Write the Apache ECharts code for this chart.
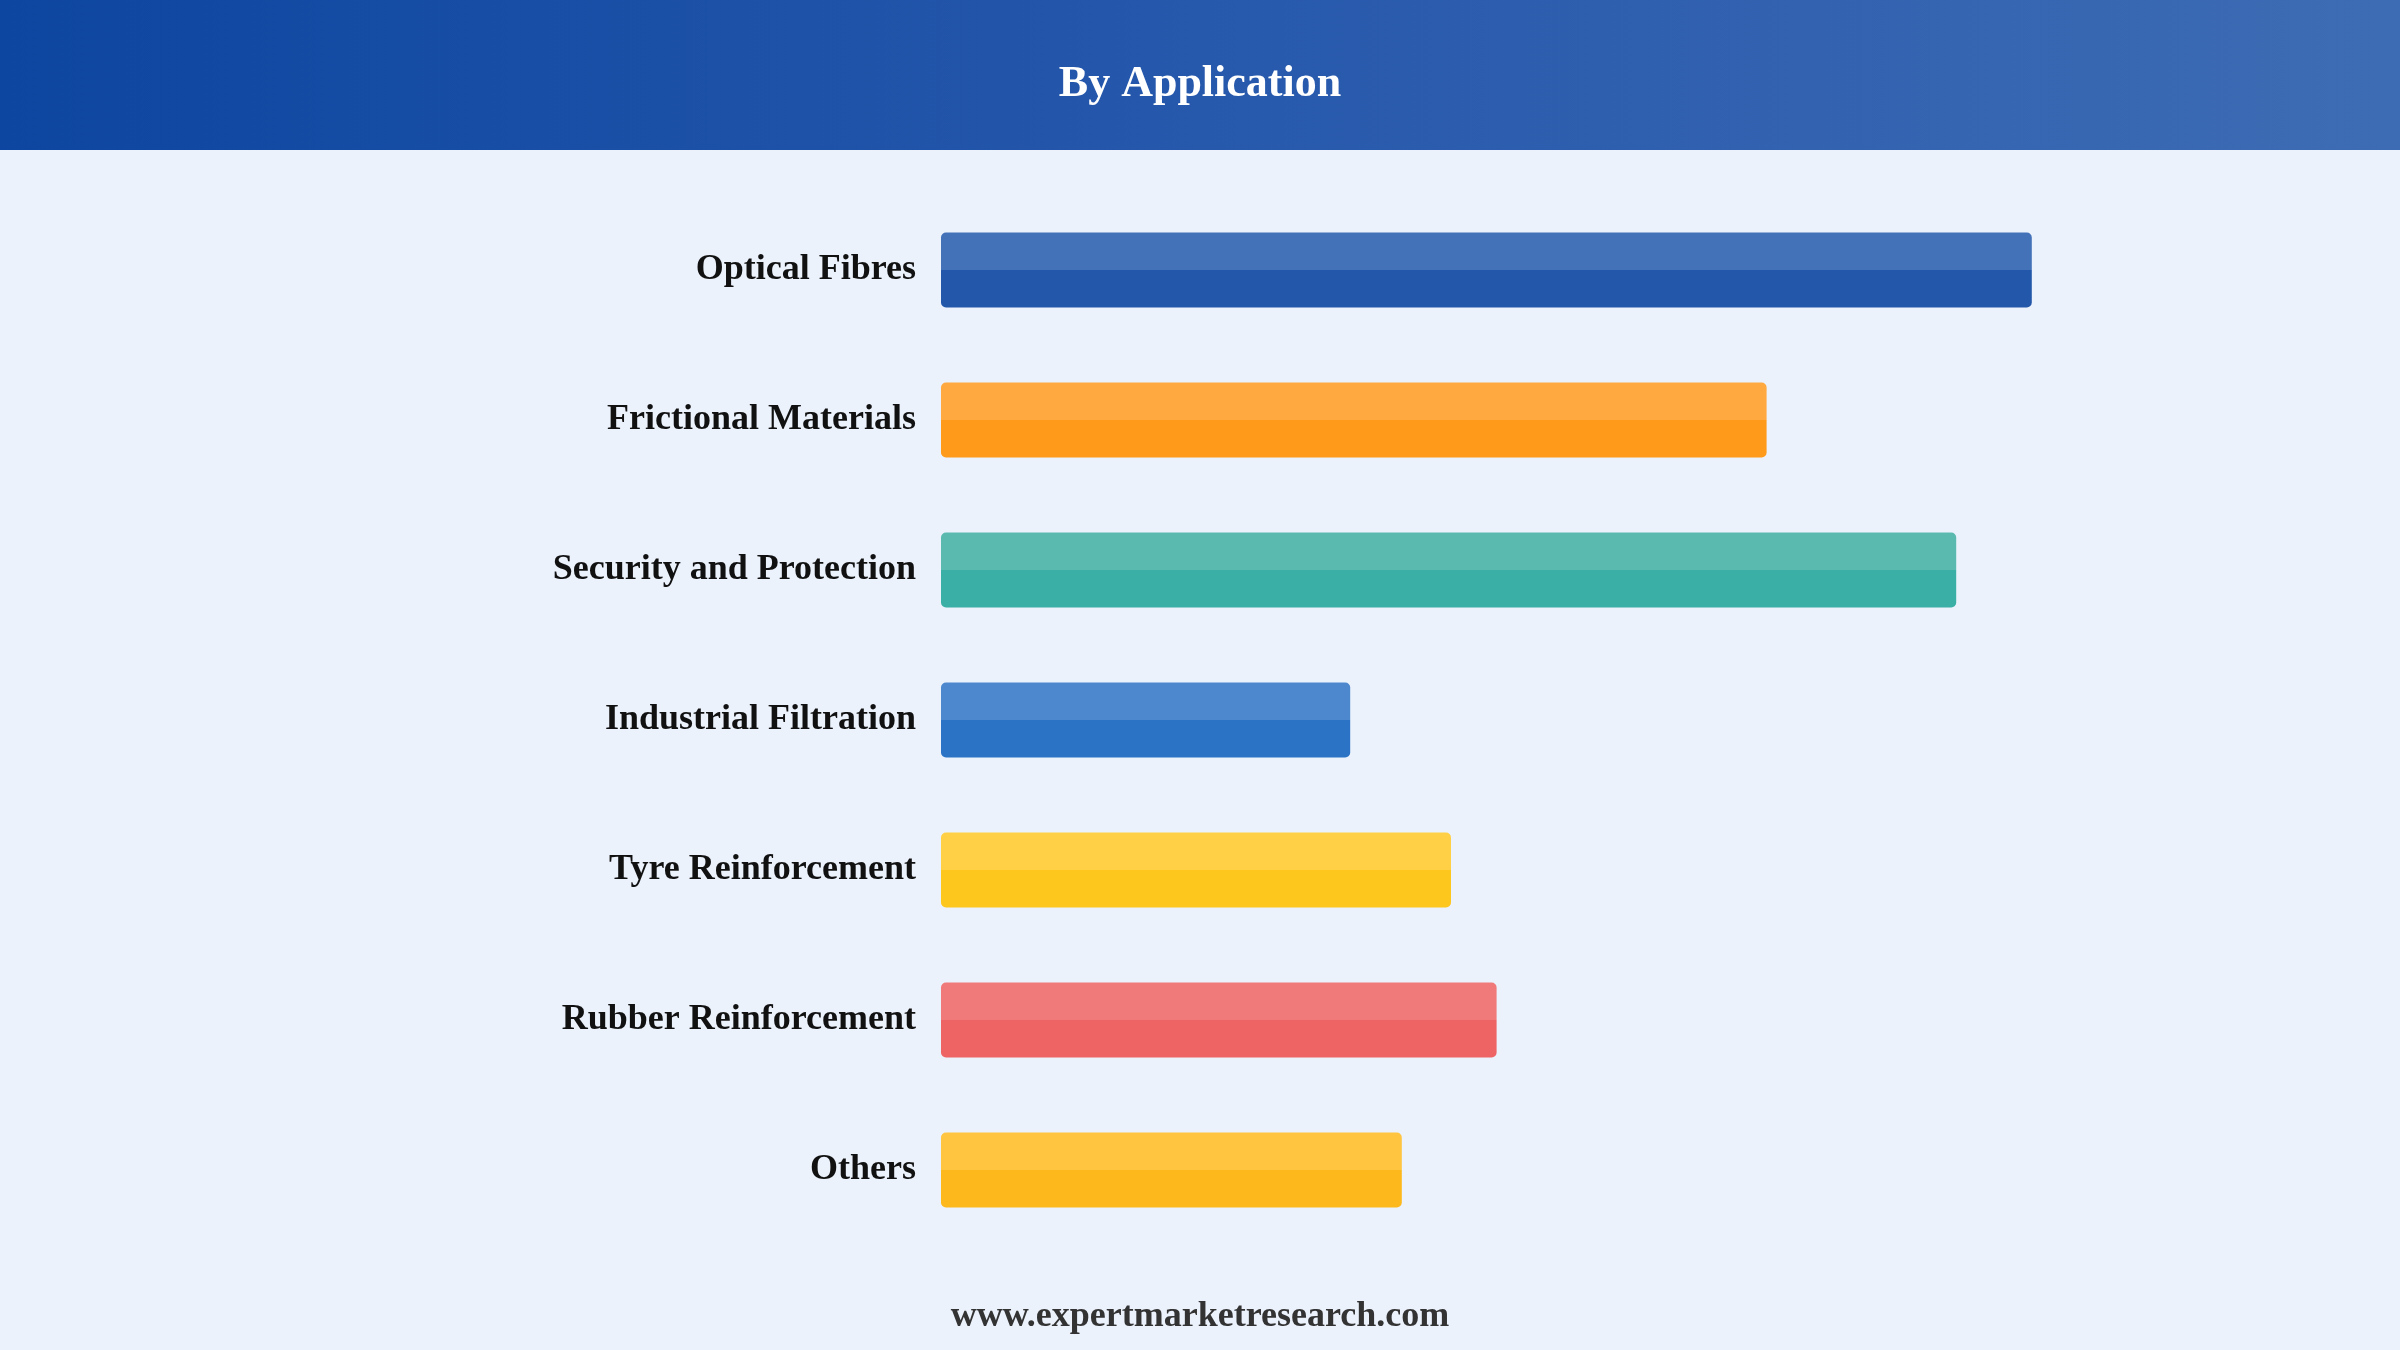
<!DOCTYPE html>
<html>
<head>
<meta charset="utf-8">
<style>
  html, body { margin: 0; padding: 0; background: #ebf2fc; }
  #chart { width: 2400px; height: 1350px; }
</style>
<script src="https://cdn.jsdelivr.net/npm/echarts@6/dist/echarts.min.js"></script>
</head>
<body>
<div id="chart"></div>
<script>
// categories, top to bottom
const categories = ['Optical Fibres', 'Frictional Materials', 'Security and Protection',
  'Industrial Filtration', 'Tyre Reinforcement', 'Rubber Reinforcement', 'Others'];
// relative bar lengths (no axis shown)
const values = [90.9, 68.8, 84.6, 34.1, 42.5, 46.3, 38.4];
// top half / bottom half colours of each bar
const lightColors = ['#4472b8', '#ffa940', '#5bbab0', '#4d88ce', '#ffd045', '#f07a7a', '#ffc440'];
const darkColors = ['#2357a9', '#ff9a1a', '#3aafa5', '#2b74c5', '#fdc71e', '#ee6464', '#fdb81c'];

const chart = echarts.init(document.getElementById('chart'));

// split bar: light top, darker bottom
function splitFill(light, dark) {
  return new echarts.graphic.LinearGradient(0, 0, 0, 1, [
    { offset: 0, color: light },
    { offset: 0.5, color: light },
    { offset: 0.5, color: dark },
    { offset: 1, color: dark }
  ]);
}

chart.setOption({
  backgroundColor: '#ebf2fc',
  animation: false,
  graphic: [
    {
      type: 'rect',
      left: 0, top: 0, z: -1,
      shape: { width: 2400, height: 150 },
      style: {
        fill: new echarts.graphic.LinearGradient(0, 0, 1, 0, [
          { offset: 0, color: '#0d46a0' },
          { offset: 0.5, color: '#2658ac' },
          { offset: 1, color: '#3e6cb4' }
        ])
      }
    },
    {
      type: 'text',
      left: 'center', top: 1299,
      style: {
        text: 'www.expertmarketresearch.com',
        font: 'bold 36px "Liberation Serif", serif',
        fill: '#333333'
      }
    }
  ],
  title: {
    text: 'By Application',
    left: 'center',
    top: 58,
    textStyle: {
      color: '#ffffff',
      fontSize: 44,
      fontWeight: 'bold',
      fontFamily: '"Liberation Serif", serif'
    }
  },
  grid: { left: 941, right: 259, top: 195, height: 1050, containLabel: false },
  xAxis: {
    type: 'value',
    min: 0,
    max: 100,
    show: false
  },
  yAxis: {
    type: 'category',
    data: categories,
    inverse: true,
    axisLine: { show: false },
    axisTick: { show: false },
    axisLabel: {
      margin: 25,
      color: '#111111',
      fontSize: 36,
      fontWeight: 'bold',
      fontFamily: '"Liberation Serif", serif',
      padding: [12, 0, 0, 0]
    }
  },
  series: [{
    type: 'bar',
    barWidth: 75,
    data: values.map((v, i) => ({
      value: v,
      itemStyle: {
        color: splitFill(lightColors[i], darkColors[i]),
        borderRadius: 5
      }
    }))
  }]
});
</script>
</body>
</html>
